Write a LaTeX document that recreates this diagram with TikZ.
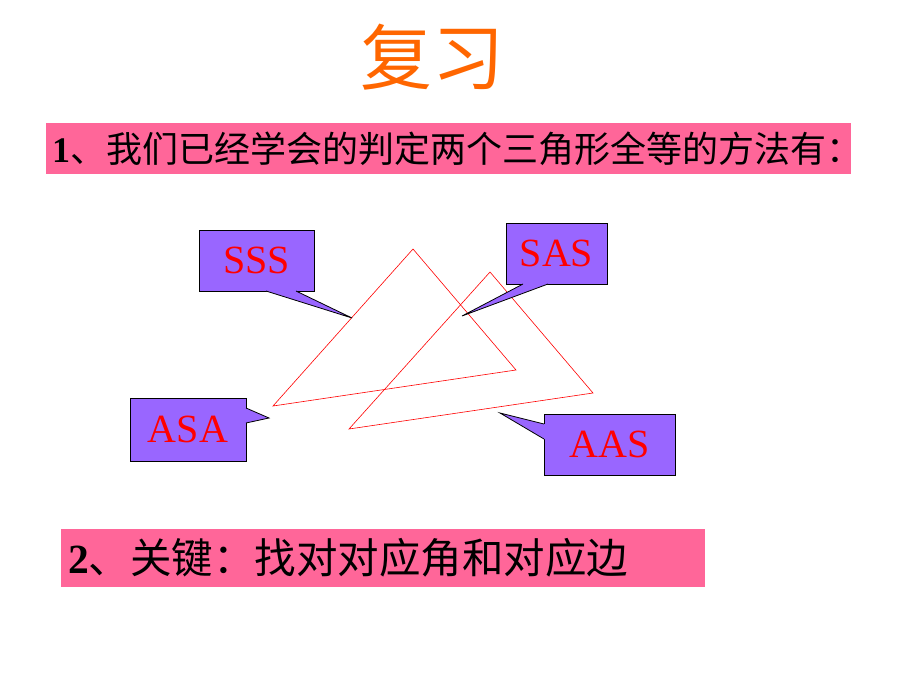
\documentclass[tikz,border=0pt]{standalone}
\usepackage{fontspec}
\setmainfont{Liberation Serif}
\newfontfamily\cjk{Noto Sans CJK SC}
\definecolor{barpink}{RGB}{255,102,153}
\definecolor{boxpurple}{RGB}{153,102,255}
\definecolor{titleorange}{RGB}{255,102,0}

\begin{document}
\begin{tikzpicture}
      [x=1pt,y=-1pt,
       every node/.style={inner sep=0pt},
       callbox/.style={draw=black,line width=0.8pt,fill=boxpurple,text=red,
         font=\fontsize{40}{40}\selectfont,minimum height=61pt},
       bar/.style={fill=barpink,align=left,font=\fontsize{36}{36}\selectfont},
       tri/.style={draw=red,line width=0.6pt}]
      \useasboundingbox (0,0) rectangle (920,690);

      \node [text=titleorange,font=\cjk\fontsize{72}{72}\selectfont] (title) at (432,57) {复习};

      \node [bar,minimum width=805pt,minimum height=51pt,inner xsep=6pt,text width=793pt] (bar1) at (448.5,148.5)
        {\textbf{1}\cjk 、我们已经学会的判定两个三角形全等的方法有：};
      \node [bar,minimum width=644pt,minimum height=58pt,inner xsep=7pt,text width=630pt,
        font=\fontsize{41.5}{41.5}\selectfont] (bar2) at (383,558)
        {\textbf{2}\cjk 、关键：找对对应角和对应边};

      % two triangles
      \coordinate (a1) at (413,249);
      \coordinate (b1) at (273,406);
      \coordinate (c1) at (516,370);
      \coordinate (a2) at (490,272);
      \coordinate (b2) at (349,429);
      \coordinate (c2) at (593,393);
      \draw [tri] (a1) -- (b1) -- (c1) -- cycle;
      \draw [tri] (a2) -- (b2) -- (c2) -- cycle;

      % callouts
      \node [callbox,minimum width=115pt] (sss) at (256.5,260.5) {SSS};
      \fill [boxpurple] (266,291) -- (352,318) -- (296,291) -- (296,288) -- (266,288) -- cycle;
      \draw [line width=0.8pt] (266,291) -- (352,318) -- (296,291);

      \node [callbox,minimum width=101pt] (sas) at (556.5,253.5) {SAS};
      \fill [boxpurple] (523,284) -- (462,316) -- (548,284) -- (548,281) -- (523,281) -- cycle;
      \draw [line width=0.8pt] (523,284) -- (462,316) -- (548,284);

      \node [callbox,minimum width=116pt,minimum height=63pt] (asa) at (188,429.5) {ASA};
      \fill [boxpurple] (246,408) -- (269,418) -- (246,423) -- (243,423) -- (243,408) -- cycle;
      \draw [line width=0.8pt] (246,408) -- (269,418) -- (246,423);

      \node [callbox,minimum width=131pt] (aas) at (609.5,444.5) {AAS};
      \fill [boxpurple] (544,424) -- (500,413) -- (544,439) -- (547,439) -- (547,424) -- cycle;
      \draw [line width=0.8pt] (544,424) -- (500,413) -- (544,439);
    \end{tikzpicture}
\end{document}
